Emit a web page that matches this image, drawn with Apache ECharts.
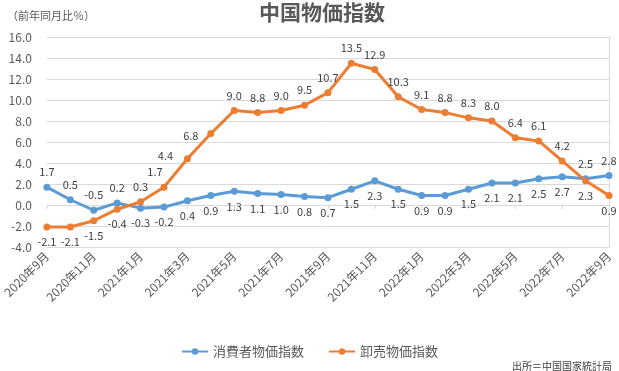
<!DOCTYPE html>
<html><head><meta charset="utf-8">
<script src="https://cdn.jsdelivr.net/npm/echarts@6/dist/echarts.min.js"></script>
<style>html,body{margin:0;padding:0;background:#fff}#c{width:619px;height:371px}</style>
</head><body><div id="c"></div>
<script>
var categories = ['2020年9月','2020年10月','2020年11月','2020年12月','2021年1月','2021年2月','2021年3月','2021年4月','2021年5月','2021年6月','2021年7月','2021年8月','2021年9月','2021年10月','2021年11月','2021年12月','2022年1月','2022年2月','2022年3月','2022年4月','2022年5月','2022年6月','2022年7月','2022年8月','2022年9月'];
var cpi = [1.7,0.5,-0.5,0.2,-0.3,-0.2,0.4,0.9,1.3,1.1,1.0,0.8,0.7,1.5,2.3,1.5,0.9,0.9,1.5,2.1,2.1,2.5,2.7,2.5,2.8];
var ppi = [-2.1,-2.1,-1.5,-0.4,0.3,1.7,4.4,6.8,9.0,8.8,9.0,9.5,10.7,13.5,12.9,10.3,9.1,8.8,8.3,8.0,6.4,6.1,4.2,2.3,0.9];
var cpiPos = ['top','top','top','top','bottom','bottom','bottom','bottom','bottom','bottom','bottom','bottom','bottom','bottom','bottom','bottom','bottom','bottom','bottom','bottom','bottom','bottom','bottom','top','top'];
var ppiPos = ['bottom','bottom','bottom','bottom','top','top','top','top','top','top','top','top','top','top','top','top','top','top','top','top','top','top','top','bottom','bottom'];
var ppiOffset = {5:[-9,0],6:[-22,12],7:[-20,17]};
var yTicks = [-4,-2,0,2,4,6,8,10,12,14,16];

var FONT = '"Noto Sans CJK JP", sans-serif';
var cpiData = cpi.map(function(v,i){return {value:v,label:{position:cpiPos[i]}};});
var ppiData = ppi.map(function(v,i){var l={position:ppiPos[i]}; if(ppiOffset[i]) l.offset=ppiOffset[i]; return {value:v,label:l};});

var chart = echarts.init(document.getElementById('c'));
chart.setOption({
  animation:false,
  textStyle:{fontFamily:FONT},
  title:[
    {text:'中国物価指数',left:254,top:-3,textStyle:{fontFamily:FONT,fontSize:21,fontWeight:'bold',color:'#595959'}},
    {text:'（前年同月比％）',left:2,top:5,textStyle:{fontFamily:FONT,fontSize:11,fontWeight:'normal',color:'#595959'}},
    {text:'出所＝中国国家統計局',right:7,bottom:0,padding:0,textStyle:{fontFamily:FONT,fontSize:10,fontWeight:'normal',color:'#404040'}}
  ],
  legend:{bottom:8,left:'center',itemWidth:26,itemHeight:8,itemGap:24,
    textStyle:{fontFamily:FONT,fontSize:13,color:'#595959'},
    data:['消費者物価指数','卸売物価指数']},
  grid:{left:45,right:10,top:37,bottom:124,containLabel:false},
  xAxis:[
    {type:'category',data:categories,boundaryGap:false,position:'bottom',
     axisLine:{show:false},axisTick:{show:false},
     axisLabel:{interval:1,rotate:45,fontSize:12,color:'#595959',fontFamily:FONT,margin:7}},
    {type:'category',data:categories,boundaryGap:false,position:'bottom',
     axisLine:{onZero:true,lineStyle:{color:'#d9d9d9',width:1}},
     axisTick:{show:true,interval:1,length:4,lineStyle:{color:'#d9d9d9'}},
     axisLabel:{show:false}}
  ],
  yAxis:[
    {type:'value',min:yTicks[0],max:yTicks[yTicks.length-1],interval:2,
     axisLine:{show:false},axisTick:{show:false},
     axisLabel:{formatter:function(v){return v.toFixed(1);},fontSize:12,color:'#595959',fontFamily:FONT,margin:15},
     splitLine:{lineStyle:{color:'#d9d9d9',width:1}}},
    {type:'value',min:yTicks[0],max:yTicks[yTicks.length-1],interval:2,position:'right',
     axisLine:{show:true,lineStyle:{color:'#d9d9d9'}},axisTick:{show:false},axisLabel:{show:false},splitLine:{show:false}}
  ],
  series:[
    {name:'消費者物価指数',type:'line',xAxisIndex:0,yAxisIndex:0,data:cpiData,
     color:'#5B9BD5',symbol:'circle',symbolSize:7,lineStyle:{width:3,color:'#5B9BD5'},
     itemStyle:{color:'#5B9BD5'},
     label:{show:true,fontSize:11,color:'#404040',fontFamily:FONT,distance:6,formatter:function(p){return p.value.toFixed(1);}}},
    {name:'卸売物価指数',type:'line',xAxisIndex:0,yAxisIndex:0,data:ppiData,
     color:'#ED7D31',symbol:'circle',symbolSize:7,lineStyle:{width:3,color:'#ED7D31'},
     itemStyle:{color:'#ED7D31'},
     label:{show:true,fontSize:11,color:'#404040',fontFamily:FONT,distance:6,formatter:function(p){return p.value.toFixed(1);}}}
  ]
});
</script></body></html>
